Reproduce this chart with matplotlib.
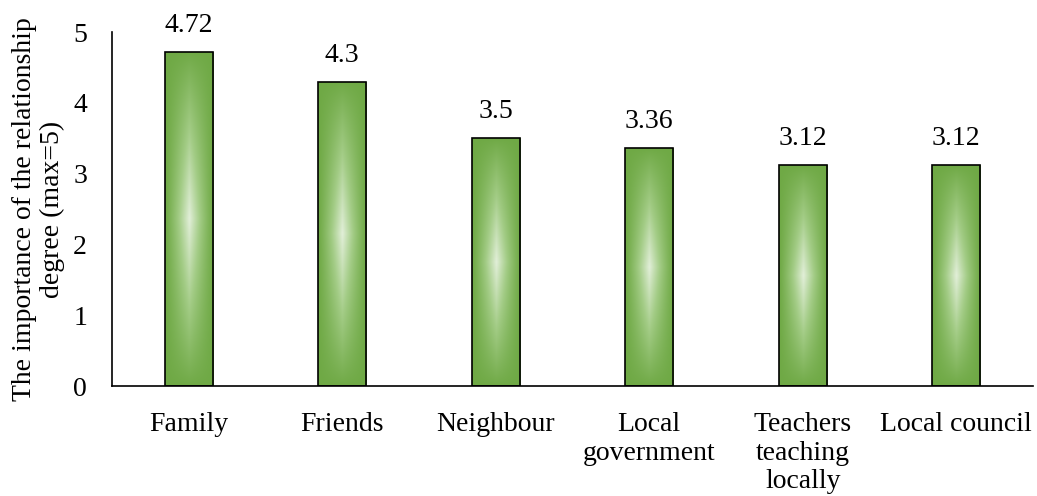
import numpy as np
import matplotlib
matplotlib.use("Agg")
import matplotlib.pyplot as plt
from matplotlib.colors import LinearSegmentedColormap

categories = ["Family", "Friends", "Neighbour", "Local\ngovernment",
              "Teachers\nteaching\nlocally", "Local council"]
values = [4.72, 4.3, 3.5, 3.36, 3.12, 3.12]
value_labels = ["4.72", "4.3", "3.5", "3.36", "3.12", "3.12"]
yticks = [0, 1, 2, 3, 4, 5]

plt.rcParams['font.family'] = ['Liberation Serif', 'DejaVu Serif']
fs = 20

fig = plt.figure(figsize=(10.37, 4.96), dpi=100)
ax = fig.add_axes([112/1037, 1-386/496, (1033-112)/1037, (386-32)/496])

x = np.arange(len(categories))
width = 0.315
bars = ax.bar(x, values, width=width, color='none', edgecolor='black', linewidth=1.2, zorder=3)

cmap = LinearSegmentedColormap.from_list("g", ["#6fa945", "#a3cc86", "#e2efd9"])
u = np.linspace(-1, 1, 200)
v = np.linspace(-1, 1, 400)
U, V = np.meshgrid(u, v)
W = (1 - np.abs(U)) ** 1.2 * (1 - np.abs(V)) ** 0.9
for b in bars:
    x0, y0 = b.get_x(), b.get_y()
    w, h = b.get_width(), b.get_height()
    im = ax.imshow(W, cmap=cmap, vmin=0, vmax=1, extent=[x0, x0 + w, y0, y0 + h],
                   aspect='auto', origin='lower', zorder=2, interpolation='bilinear')
    im.set_clip_path(b)

for xi, val, lab in zip(x, values, value_labels):
    ax.annotate(lab, (xi, val), xytext=(0, 10), textcoords='offset points',
                ha='center', va='bottom', fontsize=fs)

ax.set_xlim(-0.5, len(categories) - 0.5)
ax.set_ylim(0, 5)
ax.set_yticks(yticks)
ax.set_yticklabels([str(t) for t in yticks], fontsize=fs)
ax.set_xticks(x)
ax.set_xticklabels(categories, fontsize=fs, linespacing=1.18)
ax.tick_params(axis='x', length=0, pad=19)
ax.tick_params(axis='y', length=0, pad=18)
for s in ['top', 'right']:
    ax.spines[s].set_visible(False)
for s in ['left', 'bottom']:
    ax.spines[s].set_linewidth(1.2)
ax.set_ylabel("The importance of the relationship\ndegree (max=5)", fontsize=fs,
              linespacing=1.12, labelpad=6)

fig.savefig("out.png", dpi=100)
